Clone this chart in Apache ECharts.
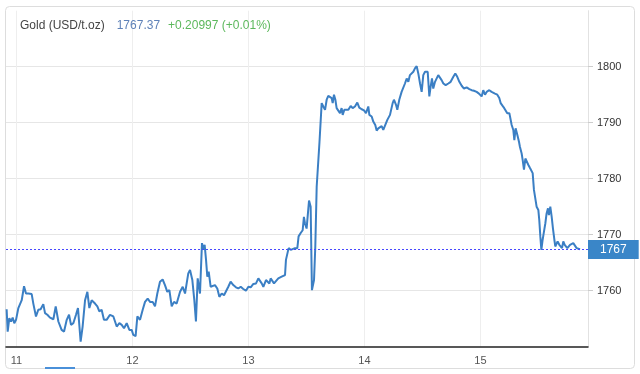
<!DOCTYPE html>
<html>
<head>
<meta charset="utf-8">
<script src="https://cdn.jsdelivr.net/npm/echarts@6/dist/echarts.min.js"></script>
<style>
html,body{margin:0;padding:0;background:#fff;}
#chart{width:640px;height:374px;}
</style>
</head>
<body>
<div id="chart"></div>
<script>
// Time in fractional day-of-month, price in USD/t.oz
const times = [
10.915,10.924,10.938,10.953,10.967,10.981,10.996,11.016,11.030,11.045,11.065,11.082,11.102,11.131,11.145,11.168,11.188,11.208,11.231,11.246,
11.266,11.289,11.318,11.338,11.361,11.389,11.410,11.433,11.453,11.470,11.490,11.513,11.530,11.553,11.570,11.591,11.611,11.628,11.648,11.677,
11.697,11.714,11.734,11.754,11.777,11.806,11.835,11.864,11.887,11.907,11.927,11.950,11.973,11.993,12.007,12.027,12.042,12.065,12.088,12.108,
12.131,12.151,12.174,12.194,12.214,12.237,12.260,12.280,12.300,12.318,12.338,12.358,12.381,12.410,12.433,12.453,12.467,12.481,12.496,12.516,
12.533,12.547,12.562,12.582,
12.599,12.611,12.622,12.634,12.645,12.657,12.674,12.691,12.711,12.731,12.749,12.769,12.789,12.806,12.826,12.846,12.869,12.892,12.912,12.933,
12.955,12.978,12.999,13.019,13.042,13.065,13.085,13.099,13.114,13.128,13.151,13.162,13.180,13.191,13.208,13.220,13.237,13.257,13.286,13.315,
13.323,13.335,13.346,13.364,13.381,13.401,13.421,13.432,13.450,13.467,13.478,13.487,13.501,13.522,13.536,13.547,13.565,13.576,13.588,
13.612,13.631,13.645,13.660,13.674,13.688,13.703,13.717,13.726,13.737,13.749,13.760,13.774,13.789,13.803,13.812,13.826,13.841,13.861,13.881,
13.898,13.918,13.938,13.955,13.976,13.996,14.013,14.033,14.042,14.062,14.076,14.093,14.105,14.119,14.134,14.148,14.162,14.177,14.197,14.220,
14.243,14.254,14.272,14.283,14.300,14.320,14.335,14.349,14.364,14.378,14.392,14.407,14.421,14.435,14.450,14.464,14.479,14.493,14.507,14.522,
14.536,14.545,14.559,14.570,14.582,14.593,14.608,14.622,14.636,14.651,14.665,14.680,14.700,14.723,14.743,14.766,14.783,14.800,14.818,14.838,
14.858,14.881,14.904,14.924,14.944,14.967,14.987,
15.010,15.024,15.039,15.053,15.076,15.096,15.125,15.145,15.162,15.174,15.191,15.205,15.220,15.231,15.249,15.260,15.269,15.283,15.292,15.303,
15.318,15.332,15.340,15.355,15.364,15.375,15.387,15.398,15.412,15.427,15.438,15.450,15.461,15.473,15.484,15.499,15.507,15.516,15.525,15.536,
15.547,15.559,15.570,15.582,15.590,15.602,15.614,15.625,15.637,15.645,15.657,15.665,15.680,15.691,15.703,15.714,15.726,15.737,15.749,15.760,
15.772,15.786,15.800,15.815,15.829,15.838,15.846,15.858
];
const prices = [
1756.7,1752.7,1755.1,1754.5,1755.2,1754.2,1754.8,1756.9,1757.2,1758.3,1760.8,1759.5,1759.5,1759.4,1757.7,1755.4,1756.6,1756.7,1757.6,1756.0,
1755.7,1755.2,1754.9,1757.2,1754.5,1753.0,1752.7,1754.8,1755.7,1753.9,1754.2,1755.7,1756.9,1750.9,1753.6,1758.3,1759.8,1756.9,1758.3,1757.7,
1757.2,1756.3,1756.6,1754.8,1754.8,1755.7,1755.4,1753.6,1754.2,1753.9,1753.3,1754.2,1753.0,1753.0,1752.1,1751.9,1755.4,1754.8,1756.6,1758.0,
1758.6,1758.0,1758.0,1757.2,1759.5,1761.6,1762.0,1761.0,1759.8,1760.1,1757.2,1758.0,1757.7,1759.8,1760.7,1759.5,1761.3,1763.1,1763.7,1761.9,
1758.3,1754.5,1762.2,1759.5,
1768.5,1767.3,1768.2,1765.5,1762.5,1763.4,1760.7,1760.8,1761.0,1760.4,1758.9,1759.5,1759.2,1759.5,1760.7,1761.6,1761.0,1760.6,1760.4,1760.7,
1760.3,1760.0,1760.7,1760.6,1761.2,1761.3,1762.2,1761.9,1761.3,1760.7,1761.9,1762.2,1761.3,1762.2,1762.2,1761.3,1761.6,1762.2,1762.5,1762.8,
1765.5,1765.2,1767.6,1767.3,1767.0,1767.6,1767.6,1769.7,1770.3,1770.8,1773.2,1772.0,1771.1,1776.1,1775.0,1760.1,1761.9,1767.9,1778.6,
1786.5,1793.5,1792.9,1792.3,1794.1,1794.8,1795.0,1794.4,1793.5,1795.0,1794.1,1792.6,1792.3,1791.7,1792.6,1791.4,1792.3,1792.0,1792.3,1793.0,
1792.6,1792.9,1793.6,1792.7,1792.4,1792.2,1791.7,1792.9,1791.4,1791.1,1790.2,1789.6,1788.6,1789.0,1788.7,1789.4,1788.7,1789.0,1790.5,1791.4,
1793.5,1794.1,1793.2,1792.3,1794.1,1795.5,1795.8,1797.0,1797.9,1797.3,1798.5,1798.2,1799.1,1799.7,1800.1,1798.8,1797.0,1795.5,1798.5,1799.1,
1798.8,1799.1,1794.7,1796.4,1797.9,1796.1,1797.3,1797.6,1798.5,1798.2,1797.6,1797.0,1796.7,1797.0,1797.3,1798.2,1798.8,1798.2,1797.3,1796.6,
1796.1,1796.3,1796.0,1795.8,1795.7,1795.5,1795.2,
1794.7,1795.8,1795.0,1795.5,1795.8,1795.5,1795.2,1795.0,1794.4,1793.5,1793.0,1792.6,1792.9,1791.7,1791.7,1791.4,1789.6,1788.7,1786.9,1789.0,
1787.8,1786.6,1785.7,1784.5,1783.3,1781.6,1783.6,1783.3,1782.5,1781.9,1782.2,1781.0,1778.0,1777.7,1775.0,1774.4,1772.6,1769.7,1767.3,1769.1,
1770.5,1772.0,1773.8,1774.7,1773.5,1775.0,1773.2,1771.1,1769.1,1767.9,1767.6,1768.8,1768.2,1768.5,1767.6,1768.8,1768.2,1768.5,1767.6,1767.9,
1768.2,1768.2,1768.5,1768.2,1767.6,1767.3,1767.6,1767.4
];
const dayTicks = [11, 12, 13, 14, 15];
const priceTicks = [1760, 1770, 1780, 1790, 1800];
const titleName = 'Gold (USD/t.oz)';
const lastPrice = 1767.37;
const lastChange = '+0.20997 (+0.01%)';
const lastLabel = '1767';

const chart = echarts.init(document.getElementById('chart'), null, {renderer: 'canvas'});
const font = 'Liberation Sans, Arial, sans-serif';
const markColor = '#4848ff';
chart.setOption({
  animation: false,
  backgroundColor: '#fff',
  textStyle: {fontFamily: font},
  title: {
    left: 20, top: 20, padding: 0,
    text: '{a|' + titleName + '}{b|' + lastPrice.toFixed(2) + '}{c|' + lastChange + '}',
    textStyle: {
      fontWeight: 'normal',
      rich: {
        a: {color: '#444', fontSize: 12, fontWeight: 'normal', fontFamily: font, padding: [0, 12, 0, 0]},
        b: {color: '#5f82b8', fontSize: 12, fontWeight: 'normal', fontFamily: font, padding: [0, 8, 0, 0]},
        c: {color: '#5cb85c', fontSize: 12, fontWeight: 'normal', fontFamily: font}
      }
    }
  },
  graphic: [
    {type: 'rect', silent: true, z: -1, shape: {x: 5.5, y: 6.5, width: 629, height: 362, r: 4},
     style: {fill: 'none', stroke: '#dddddd', lineWidth: 1}},
    {type: 'rect', silent: true, shape: {x: 45, y: 367, width: 30, height: 2},
     style: {fill: '#4a90d9'}}
  ],
  grid: {left: 6, right: 52, top: 10.7, bottom: 27.3},
  xAxis: {
    type: 'value', min: 10.9095, max: 15.927,
    axisLine: {show: true, onZero: false, lineStyle: {color: '#222', width: 1.5}},
    axisTick: {show: false, customValues: dayTicks},
    axisLabel: {customValues: dayTicks, color: '#555', fontSize: 11, margin: 9,
                formatter: v => String(v)},
    splitLine: {show: true, lineStyle: {color: '#eeeeee', width: 1}}
  },
  yAxis: {
    type: 'value', position: 'right', min: 1750, max: 1810,
    axisLine: {show: true, lineStyle: {color: '#e2e2e2', width: 1}},
    axisTick: {show: true, length: 5, customValues: priceTicks, lineStyle: {color: '#cccccc'}},
    axisLabel: {customValues: priceTicks, color: '#333', fontSize: 11, margin: 9,
                formatter: v => String(v)},
    splitLine: {show: true, lineStyle: {color: '#e6e6e6', width: 1}}
  },
  series: [{
    type: 'line',
    data: times.map((t, i) => [t, prices[i]]),
    showSymbol: false,
    symbol: 'none',
    lineStyle: {color: '#3b7fc4', width: 2},
    markLine: {
      silent: true,
      symbol: 'none',
      precision: 2,
      data: [{yAxis: lastPrice, lineStyle: {color: markColor, type: [2, 2], width: 1, opacity: 1}}],
      lineStyle: {color: markColor, type: [2, 2], width: 1, opacity: 1},
      label: {
        position: 'end', distance: 0, formatter: lastLabel,
        backgroundColor: '#3a86c8', color: '#fff', fontSize: 12,
        padding: [4, 12, 3, 12]
      }
    }
  }]
});
</script>
</body>
</html>
